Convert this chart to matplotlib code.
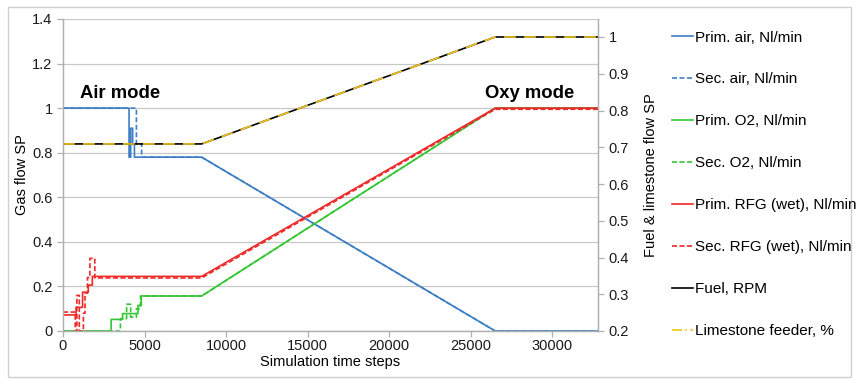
import matplotlib
matplotlib.use("Agg")
import matplotlib.pyplot as plt
from matplotlib.lines import Line2D
from matplotlib.patches import Rectangle

plt.rcParams['font.family'] = ['Liberation Sans', 'DejaVu Sans']

XMAX = 32800

# ---- data (step sequences) ----
prim_air_x = [0, 4050, 4050, 4150, 4150, 4270, 4270, 4380, 4380, 8500, 26500, XMAX]
prim_air_y = [1.0, 1.0, 0.78, 0.78, 0.91, 0.91, 0.84, 0.84, 0.78, 0.78, 0.0, 0.0]

sec_air_x = [0, 4500, 4500, 4820, 4820, 8500, 26500, XMAX]
sec_air_y = [1.0, 1.0, 0.84, 0.84, 0.78, 0.78, 0.0, 0.0]

prim_o2_x = [0, 2950, 2950, 3650, 3650, 4600, 4600, 4800, 4800, 8500, 26500, XMAX]
prim_o2_y = [0.0, 0.0, 0.052, 0.052, 0.078, 0.078, 0.115, 0.115, 0.157, 0.157, 1.0, 1.0]

sec_o2_x = [0, 3520, 3520, 3900, 3900, 4150, 4150, 4500, 4500, 4750, 4750, 8500, 26500, XMAX]
sec_o2_y = [0.0, 0.0, 0.055, 0.055, 0.12, 0.12, 0.062, 0.062, 0.10, 0.10, 0.157, 0.157, 1.0, 1.0]

prim_rfg_x = [0, 800, 800, 1200, 1200, 1550, 1550, 1800, 1800, 8500, 26500, XMAX]
prim_rfg_y = [0.072, 0.072, 0.106, 0.106, 0.174, 0.174, 0.206, 0.206, 0.245, 0.245, 1.0, 1.0]

sec_rfg_x = [0, 750, 750, 850, 850, 1000, 1000, 1250, 1250, 1350, 1350, 1500, 1500, 1650, 1650, 1950, 1950, 8500, 26500, XMAX]
sec_rfg_y = [0.085, 0.085, 0.0, 0.0, 0.16, 0.16, 0.0, 0.0, 0.08, 0.08, 0.17, 0.17, 0.24, 0.24, 0.326, 0.326, 0.238, 0.238, 0.995, 0.995]

fuel_x = [0, 8500, 26500, XMAX]
fuel_y = [0.709, 0.709, 1.0, 1.0]

lime_x = [0, 8500, 26500, XMAX]
lime_y = [0.709, 0.709, 1.0, 1.0]

left_ticks = [0, 0.2, 0.4, 0.6, 0.8, 1.0, 1.2, 1.4]
left_tick_labels = ['0', '0.2', '0.4', '0.6', '0.8', '1', '1.2', '1.4']
right_ticks = [0.2, 0.3, 0.4, 0.5, 0.6, 0.7, 0.8, 0.9, 1.0]
right_tick_labels = ['0.2', '0.3', '0.4', '0.5', '0.6', '0.7', '0.8', '0.9', '1']
x_ticks = [0, 5000, 10000, 15000, 20000, 25000, 30000]

labels = ['Prim. air, Nl/min', 'Sec. air, Nl/min', 'Prim. O2, Nl/min', 'Sec. O2, Nl/min',
          'Prim. RFG (wet), Nl/min', 'Sec. RFG (wet), Nl/min', 'Fuel, RPM', 'Limestone feeder, %']

BLUE = '#3d7fc6'
GREEN = '#33c633'
RED = '#f02828'
YELLOW = '#f2c31a'
DASH = (0, (3, 1.5))

W, H = 856, 379
fig = plt.figure(figsize=(W / 100, H / 100), dpi=100)
ax = fig.add_axes([63 / W, 1 - 331 / H, (598 - 63) / W, (331 - 19) / H])
ax2 = ax.twinx()

lw = 1.2
ax.plot(prim_air_x, prim_air_y, color=BLUE, lw=lw)
ax.plot(sec_air_x, sec_air_y, color=BLUE, lw=lw, ls=DASH)
ax.plot(prim_o2_x, prim_o2_y, color=GREEN, lw=lw)
ax.plot(sec_o2_x, sec_o2_y, color=GREEN, lw=lw, ls=DASH)
ax.plot(sec_rfg_x, sec_rfg_y, color=RED, lw=lw, ls=DASH)
ax.plot(prim_rfg_x, prim_rfg_y, color=RED, lw=lw)
ax2.plot(fuel_x, fuel_y, color='black', lw=lw)
ax2.plot(lime_x, lime_y, color=YELLOW, lw=lw, ls=(0, (7, 5)))

ax.set_xlim(0, XMAX)
ax.set_ylim(0, 1.4)
ax2.set_ylim(0.2, 0.2 + 312 / 367.5)

ax.set_xticks(x_ticks)
ax.set_xticklabels([str(v) for v in x_ticks])
ax.set_yticks(left_ticks)
ax.set_yticklabels(left_tick_labels)
ax2.set_yticks(right_ticks)
ax2.set_yticklabels(right_tick_labels)

ax.grid(axis='y', color='#c8c8c8', lw=0.9)
ax.set_axisbelow(True)
spc = '#b0b0b0'
for a in (ax, ax2):
    a.spines['top'].set_visible(False)
    for s in ('left', 'right', 'bottom'):
        a.spines[s].set_color(spc)
        a.spines[s].set_linewidth(0.9)
    a.tick_params(colors=spc, labelcolor='#1a1a1a', labelsize=10.5, length=4, width=0.9)
ax.tick_params(axis='x', pad=2)

ax.set_xlabel('Simulation time steps', fontsize=10.5, labelpad=1)
ax.set_ylabel('Gas flow SP', fontsize=10.5, labelpad=2)
ax2.set_ylabel('Fuel & limestone flow SP', fontsize=10.5, labelpad=11)

ax.text(1050, 1.045, 'Air mode', fontsize=13.3, fontweight='bold', ha='left', va='baseline')
ax.text(25900, 1.045, 'Oxy mode', fontsize=13.3, fontweight='bold', ha='left', va='baseline')

handles = [
    Line2D([], [], color=BLUE, lw=lw),
    Line2D([], [], color=BLUE, lw=lw, ls=DASH),
    Line2D([], [], color=GREEN, lw=lw),
    Line2D([], [], color=GREEN, lw=lw, ls=DASH),
    Line2D([], [], color=RED, lw=lw),
    Line2D([], [], color=RED, lw=lw, ls=DASH),
    Line2D([], [], color='black', lw=lw),
    Line2D([], [], color=YELLOW, lw=lw, ls=(0, (6, 2, 1, 2))),
]
fig.legend(handles, labels, loc='upper left', bbox_to_anchor=(672 / W, 1 - 30.5 / H),
           frameon=False, fontsize=11, handlelength=1.37, handletextpad=0.13,
           labelspacing=1.83, borderpad=0, borderaxespad=0)

fig.patches.append(Rectangle((8 / W, 1 - 377 / H), (851 - 8) / W, (377 - 7) / H,
                             transform=fig.transFigure, fill=False, ec='#d0d0d0', lw=1))

fig.savefig('out.png', dpi=100)
